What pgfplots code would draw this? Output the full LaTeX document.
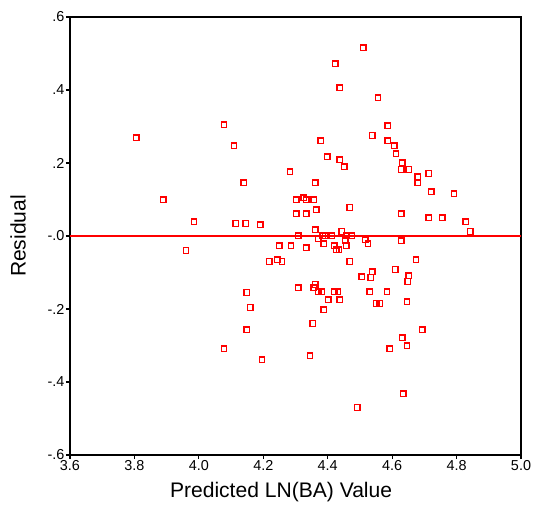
\documentclass[border=0pt]{standalone}
\usepackage{fontspec}
\setmainfont{Liberation Sans}
\usepackage{pgfplots}
\pgfplotsset{compat=1.18}
\begin{document}
\begin{tikzpicture}
\begin{axis}[
  scale only axis, width=338.25pt, height=328.5pt,
  xmin=3.6, xmax=5.0, ymin=-0.6, ymax=0.6,
  xtick={3.6,3.8,4.0,4.2,4.4,4.6,4.8,5.0},
  xticklabels={3.6,3.8,4.0,4.2,4.4,4.6,4.8,5.0},
  ytick={-0.6,-0.4,-0.2,0,0.2,0.4,0.6},
  yticklabels={-.6,-.4,-.2,-.0,.2,.4,.6},
  tick align=outside, tick pos=left, major tick length=3pt,
  axis line style={line width=1.1pt},
  tick style={black, line width=0.8pt},
  ticklabel style={font=\fontsize{10.8}{12}\selectfont},
  xticklabel style={inner sep=1pt},
  yticklabel style={inner sep=1pt},
  xlabel={Predicted LN(BA) Value}, ylabel={Residual},
  label style={font=\fontsize{15.8}{18}\selectfont},
  xlabel style={at={(axis description cs:0.468,-0.0845)}, anchor=center},
  ylabel style={at={(axis description cs:-0.115,0.5)}, anchor=center},
  clip=false,
]
\addplot[red, line width=1pt] coordinates {(3.6,0) (5.0,0)};
\addplot[only marks, mark=square, mark size=2.1pt, red, mark options={line width=1pt}] table {
x y
3.805 0.269
3.889 0.099
3.960 -0.040
3.985 0.039
4.078 0.305
4.109 0.247
4.115 0.034
4.140 0.146
4.146 0.034
4.190 0.031
4.078 -0.309
4.149 -0.155
4.159 -0.196
4.149 -0.257
4.196 -0.339
4.283 0.176
4.302 0.099
4.302 0.061
4.308 0.001
4.249 -0.027
4.286 -0.027
4.218 -0.070
4.243 -0.065
4.258 -0.070
4.308 -0.142
4.326 0.105
4.333 0.099
4.357 0.099
4.333 0.061
4.364 0.072
4.361 0.146
4.379 0.261
4.398 0.217
4.423 0.472
4.438 0.406
4.438 0.209
4.451 0.190
4.469 0.078
4.510 0.516
4.556 0.379
4.538 0.275
4.587 0.302
4.587 0.261
4.606 0.247
4.612 0.225
4.631 0.201
4.628 0.182
4.652 0.182
4.680 0.162
4.680 0.146
4.714 0.171
4.721 0.121
4.792 0.116
4.628 0.061
4.714 0.050
4.755 0.050
4.829 0.039
4.842 0.012
4.361 0.017
4.370 -0.007
4.385 0.001
4.392 0.001
4.413 0.001
4.444 0.012
4.457 0.001
4.475 0.001
4.454 -0.013
4.516 -0.010
4.525 -0.021
4.628 -0.013
4.333 -0.032
4.388 -0.021
4.420 -0.027
4.426 -0.038
4.435 -0.038
4.457 -0.027
4.469 -0.070
4.674 -0.065
4.506 -0.112
4.538 -0.098
4.534 -0.114
4.609 -0.092
4.652 -0.109
4.649 -0.125
4.361 -0.133
4.357 -0.142
4.370 -0.153
4.382 -0.153
4.420 -0.153
4.432 -0.153
4.401 -0.175
4.438 -0.175
4.388 -0.202
4.531 -0.153
4.584 -0.153
4.550 -0.185
4.562 -0.185
4.646 -0.180
4.693 -0.257
4.631 -0.279
4.646 -0.301
4.593 -0.309
4.354 -0.240
4.345 -0.328
4.634 -0.432
4.491 -0.470
};
\end{axis}
\pgfresetboundingbox
\path ([shift={(-52.5pt,-42.75pt)}]current axis.south west) rectangle ([shift={(9.75pt,12.75pt)}]current axis.north east);
\end{tikzpicture}
\end{document}
